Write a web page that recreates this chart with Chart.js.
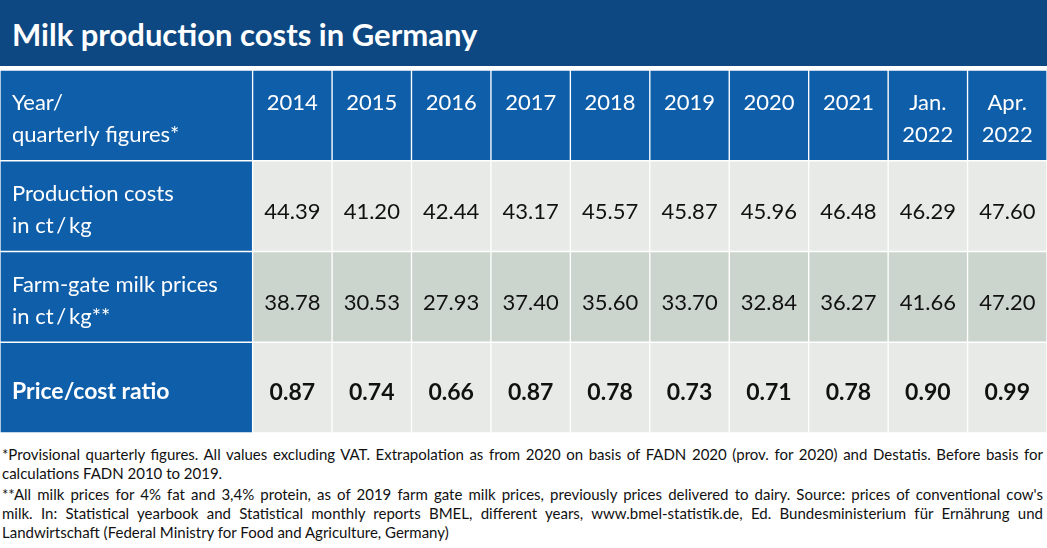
<!DOCTYPE html>
<html>
<head>
<meta charset="utf-8">
<script src="https://cdn.jsdelivr.net/npm/chart.js@4"></script>
<style>
  html, body { margin: 0; padding: 0; background: #fff; }
  body { width: 1047px; height: 548px; position: relative; overflow: hidden; font-family: Lato, "Noto Sans", sans-serif; }
  #title {
    position: absolute; left: 0; top: 0; width: 1047px; height: 66px;
    background: #0d4883; color: #fff; font-weight: bold; font-size: 31px;
    line-height: 68px; padding-left: 12px; box-sizing: border-box;
  }
  #table { position: absolute; left: 0; top: 70px; width: 1047px; height: 363px; }
  #notes { position: absolute; left: 2px; top: 445px; width: 1041px; font-size: 15px; color: #111; line-height: 19px; }
  #notes div { white-space: nowrap; }
  #notes .j { text-align: justify; text-align-last: justify; }
  #notes .gap { margin-top: 2px; }
</style>
</head>
<body>
<div id="title">Milk production costs in Germany</div>
<div id="table"><canvas id="chart"></canvas></div>
<div id="notes">
  <div class="j">*Provisional quarterly figures. All values excluding VAT. Extrapolation as from 2020 on basis of FADN 2020 (prov. for 2020) and Destatis. Before basis for</div>
  <div>calculations FADN 2010 to 2019.</div>
  <div class="j gap">**All milk prices for 4% fat and 3,4% protein, as of 2019 farm gate milk prices, previously prices delivered to dairy. Source: prices of conventional cow's</div>
  <div class="j">milk. In: Statistical yearbook and Statistical monthly reports BMEL, different years, www.bmel-statistik.de, Ed. Bundesministerium für Ernährung und</div>
  <div>Landwirtschaft (Federal Ministry for Food and Agriculture, Germany)</div>
</div>
<script>
// table contents
const periods = ['2014', '2015', '2016', '2017', '2018', '2019', '2020', '2021', 'Jan.\n2022', 'Apr.\n2022'];
const rowLabels = ['Year/\nquarterly figures*', 'Production costs\nin ct\u2009/\u2009kg', 'Farm-gate milk prices\nin ct\u2009/\u2009kg**', 'Price/cost ratio'];
const productionCosts = [44.39, 41.20, 42.44, 43.17, 45.57, 45.87, 45.96, 46.48, 46.29, 47.60];
const milkPrices = [38.78, 30.53, 27.93, 37.40, 35.60, 33.70, 32.84, 36.27, 41.66, 47.20];
const priceCostRatio = [0.87, 0.74, 0.66, 0.87, 0.78, 0.73, 0.71, 0.78, 0.90, 0.99];

// layout: label column is wider than the period columns
const labelColWidth = 3.18;
const periodColWidth = 1;

const BLUE = '#0f5ea9';
const LIGHT = '#e7eae7';
const DARK = '#ccd5cd';

const rowFill = [BLUE, LIGHT, DARK, LIGHT];
const valueRows = [null, productionCosts, milkPrices, priceCostRatio];

const datasets = [{
  label: 'labels',
  data: rowLabels.map(() => labelColWidth),
  backgroundColor: BLUE
}].concat(periods.map((p, i) => ({
  label: p,
  data: rowLabels.map(() => periodColWidth),
  backgroundColor: rowFill
})));

const cellText = {
  id: 'cellText',
  afterDatasetsDraw(chart) {
    const ctx = chart.ctx;
    ctx.save();
    ctx.textBaseline = 'alphabetic';
    chart.data.datasets.forEach((ds, col) => {
      chart.getDatasetMeta(col).data.forEach((bar, row) => {
        const left = Math.min(bar.x, bar.base);
        const right = Math.max(bar.x, bar.base);
        const top = bar.y - bar.height / 2;
        let lines, x, align, color, font, firstBase;
        if (col === 0) {
          lines = rowLabels[row].split('\n');
          x = left + 12; align = 'left'; color = '#fff';
          font = row === 3 ? 'bold 23px Lato' : '22px Lato';
          firstBase = lines.length > 1 ? top + 40 : top + 57;
        } else if (row === 0) {
          lines = periods[col - 1].split('\n');
          x = (left + right) / 2; align = 'center'; color = '#fff';
          font = '22px Lato';
          firstBase = top + 40;
        } else {
          const v = valueRows[row][col - 1];
          lines = [v.toFixed(2)];
          x = (left + right) / 2; align = 'center'; color = '#111';
          font = row === 3 ? 'bold 23px Lato' : '22px Lato';
          firstBase = top + 58;
        }
        ctx.fillStyle = color;
        ctx.font = font;
        ctx.textAlign = align;
        lines.forEach((t, k) => ctx.fillText(t, x, firstBase + k * 32));
      });
    });
    ctx.restore();
  }
};

new Chart(document.getElementById('chart').getContext('2d'), {
  type: 'bar',
  data: { labels: rowLabels, datasets },
  options: {
    indexAxis: 'y',
    responsive: true,
    maintainAspectRatio: false,
    animation: false,
    layout: { padding: 0 },
    datasets: {
      bar: {
        barPercentage: 1,
        categoryPercentage: 1,
        borderWidth: 1,
        borderColor: '#fff',
        borderSkipped: false
      }
    },
    scales: {
      x: { type: 'linear', stacked: true, display: false, min: 0, max: labelColWidth + periods.length * periodColWidth },
      y: { type: 'category', stacked: true, display: false }
    },
    plugins: {
      legend: { display: false },
      tooltip: { enabled: false }
    }
  },
  plugins: [cellText]
});
</script>
</body>
</html>
